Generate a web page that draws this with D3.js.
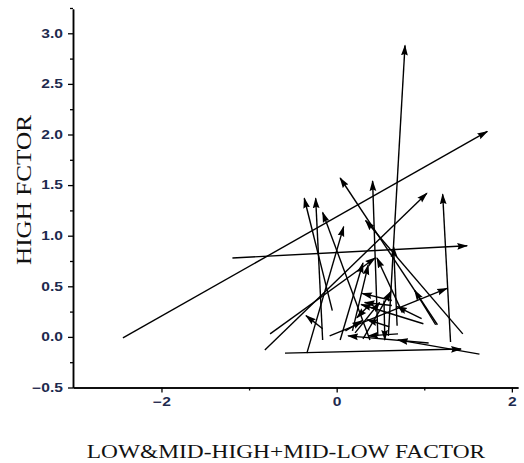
<!DOCTYPE html>
<html>
<head>
<meta charset="utf-8">
<script src="https://cdn.jsdelivr.net/npm/d3@7"></script>
<style>
  html, body { margin: 0; padding: 0; background: #fff; }
  svg { display: block; }
</style>
</head>
<body>
<svg id="chart" width="524" height="463"></svg>
<script>
// Vector (arrow) data: start point -> end point (arrow head at end)
const xStart = [-2.44, 0.59, -1.19, -0.59, 1.63, -0.82, -0.76, 1.30, 0.47, 1.15, -0.05, -0.16, 0.38, -0.34, 1.44, 0.69, -0.08, 1.13, -0.16, 0.97, 0.63, 0.60, 0.70, 0.18, 0.04, 0.75, 0.21, 0.54, 0.30, 0.40, 0.63, 0.10, 1.05, 0.99];
const yStart = [-0.01, 0.01, 0.78, -0.16, -0.17, -0.13, 0.03, -0.05, 0.01, 0.12, 0.26, -0.03, -0.03, -0.16, 0.03, 0.11, 0.01, 0.12, 0.08, 0.18, 0.36, 0.10, 0.03, 0.06, -0.03, 0.24, 0.04, 0.36, -0.02, 0.34, 0.31, 0.06, -0.06, 0.13];
const xEnd   = [1.72, 0.78, 1.49, 1.42, 0.70, 1.03, 0.44, 1.21, 0.41, 0.04, -0.37, -0.24, -0.16, 0.08, 0.33, 0.65, 1.26, 0.89, -0.35, 0.69, 0.29, 0.35, 0.36, 0.36, 0.30, 0.46, 0.49, 0.55, 0.62, 0.23, 0.32, 0.29, 0.13, 0.28];
const yEnd   = [2.03, 2.88, 0.90, -0.12, -0.03, 1.42, 0.78, 1.41, 1.54, 1.57, 1.37, 1.37, 1.23, 1.09, 1.15, 0.89, 0.48, 0.46, 0.21, 0.30, 0.43, 0.17, 0.01, 0.71, 0.73, 0.78, 0.34, -0.03, 0.45, 0.19, 0.34, 0.16, 0.01, 0.32];

const yMajorTicks = [-0.5, 0.0, 0.5, 1.0, 1.5, 2.0, 2.5, 3.0];
const yMinorTicks = [-0.25, 0.25, 0.75, 1.25, 1.75, 2.25, 2.75, 3.25];
const xMajorTicks = [-2, 0, 2];
const xMinorTicks = [-1, 1];

const xTitle = "LOW&MID-HIGH+MID-LOW FACTOR";
const yTitle = "HIGH FCTOR";

const svg = d3.select("#chart");
const x = d3.scaleLinear().domain([-3.01, 2.07]).range([73, 518]);
const y = d3.scaleLinear().domain([-0.5, 3.24]).range([387.5, 9]);

const labelColor = "#1e2a4e";
const stretch = 1.3;

// arrow marker
svg.append("defs").append("marker")
  .attr("id", "head")
  .attr("markerUnits", "userSpaceOnUse")
  .attr("viewBox", "0 -4 11 8")
  .attr("refX", 10).attr("refY", 0)
  .attr("markerWidth", 11).attr("markerHeight", 8)
  .attr("orient", "auto")
  .append("path")
  .attr("d", "M0,-3.4L11,0L0,3.4L1.5,0Z")
  .attr("fill", "#000");

// arrows
const idx = d3.range(xStart.length);
svg.append("g").selectAll("line").data(idx).join("line")
  .attr("x1", i => x(xStart[i])).attr("y1", i => y(yStart[i]))
  .attr("x2", i => x(xEnd[i])).attr("y2", i => y(yEnd[i]))
  .attr("stroke", "#000").attr("stroke-width", 1.4)
  .attr("marker-end", "url(#head)");

// axes
const gy = svg.append("g").attr("transform", "translate(73,0)")
  .call(d3.axisLeft(y).tickValues(yMajorTicks).tickFormat(d3.format(".1f")).tickSize(5).tickSizeOuter(0));
const gyMinor = svg.append("g").attr("transform", "translate(73,0)")
  .call(d3.axisLeft(y).tickValues(yMinorTicks).tickFormat("").tickSize(3).tickSizeOuter(0));
const gx = svg.append("g").attr("transform", "translate(0,387.5)")
  .call(d3.axisBottom(x).tickValues(xMajorTicks).tickFormat(d3.format("d")).tickSize(5).tickSizeOuter(0));
const gxMinor = svg.append("g").attr("transform", "translate(0,387.5)")
  .call(d3.axisBottom(x).tickValues(xMinorTicks).tickFormat("").tickSize(3).tickSizeOuter(0));

[gy, gyMinor, gx, gxMinor].forEach(g => {
  g.selectAll("path.domain").attr("stroke", "#000").attr("stroke-width", 1.5);
  g.selectAll(".tick line").attr("stroke", "#000").attr("stroke-width", 1.3);
});
gy.selectAll(".tick text")
  .attr("fill", labelColor)
  .attr("font-family", "Liberation Sans, Arial, sans-serif")
  .attr("font-size", 12).attr("font-weight", "bold")
  .attr("x", -10 / stretch)
  .attr("transform", `scale(${stretch},1)`);
gx.selectAll(".tick text")
  .attr("fill", labelColor)
  .attr("font-family", "Liberation Sans, Arial, sans-serif")
  .attr("font-size", 12).attr("font-weight", "bold")
  .attr("y", 10)
  .attr("transform", `scale(${stretch},1)`);

// titles
svg.append("text")
  .attr("transform", `translate(286,458) scale(${stretch},1)`)
  .attr("text-anchor", "middle")
  .attr("font-family", "Liberation Serif, Times New Roman, serif")
  .attr("font-size", 18)
  .attr("fill", "#111")
  .text(xTitle);

svg.append("text")
  .attr("transform", `translate(31,190) scale(1.2,1.4) rotate(-90)`)
  .attr("text-anchor", "middle")
  .attr("font-family", "Liberation Serif, Times New Roman, serif")
  .attr("font-size", 18)
  .attr("fill", "#111")
  .text(yTitle);
</script>
</body>
</html>
